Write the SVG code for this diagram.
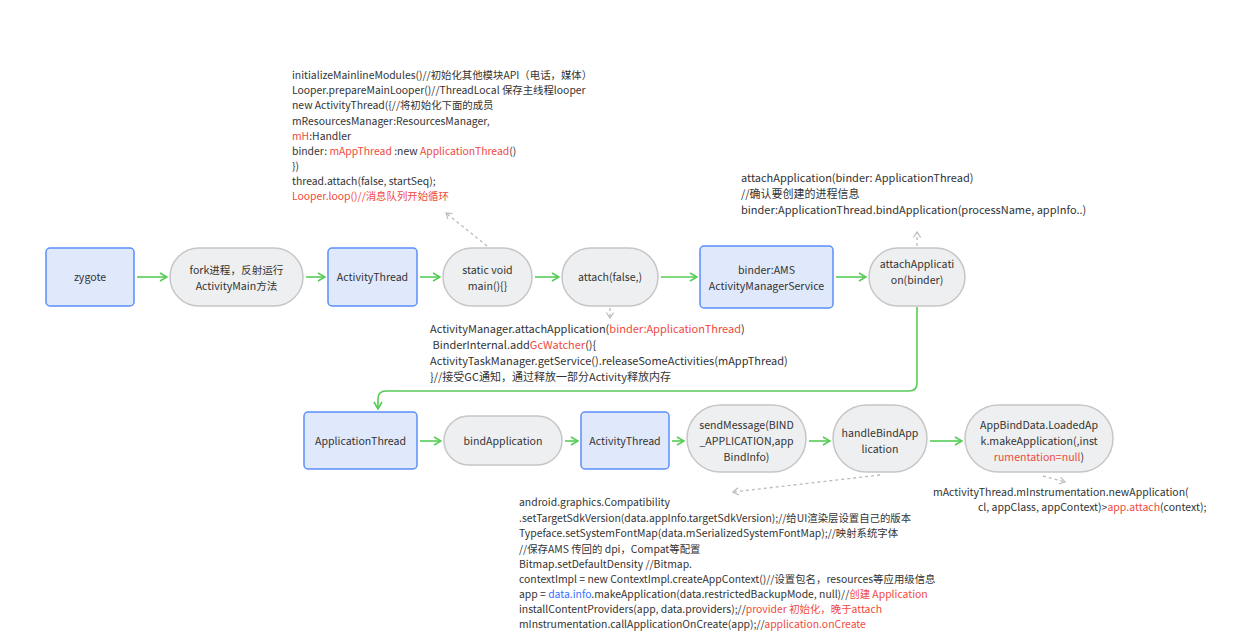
<svg xmlns="http://www.w3.org/2000/svg" width="1240" height="642" viewBox="0 0 1240 642">
<defs>
<style>
text{font-family:"Noto Sans CJK SC","Noto Sans",sans-serif;fill:#333;}
.t{font-size:11px;}
.s{font-size:10.4px;}
.n{font-size:10.6px;text-anchor:middle;}
.r{fill:#f04a3e;}
.b{fill:#3370ff;}
.box{fill:#e0e8fc;stroke:#5b8ff9;stroke-width:1.5;}
.pill{fill:#eeeff0;stroke:#c6c6c6;stroke-width:1.5;}
.g{fill:none;stroke:#55cc55;stroke-width:1.6;}
.d{fill:none;stroke:#bbbbbb;stroke-width:1.3;stroke-dasharray:3 3;}
</style>
<marker id="ag" viewBox="0 0 10 10" refX="9" refY="5" markerWidth="10" markerHeight="10" markerUnits="userSpaceOnUse" orient="auto">
<path d="M2,1 L9,5 L2,9" fill="none" stroke="#55cc55" stroke-width="1.6"/>
</marker>
<marker id="ad" viewBox="0 0 10 10" refX="9" refY="5" markerWidth="9" markerHeight="9" markerUnits="userSpaceOnUse" orient="auto">
<path d="M3,1 L9,5 L3,9" fill="none" stroke="#bbbbbb" stroke-width="1.3"/>
</marker>
</defs>
<rect width="1240" height="642" fill="#ffffff"/>

<g id="connectors">
<line class="g" x1="137" y1="277" x2="167" y2="277" marker-end="url(#ag)"/>
<line class="g" x1="306" y1="277" x2="325" y2="277" marker-end="url(#ag)"/>
<line class="g" x1="420" y1="277" x2="440" y2="277" marker-end="url(#ag)"/>
<line class="g" x1="535" y1="277" x2="559" y2="277" marker-end="url(#ag)"/>
<line class="g" x1="661" y1="277" x2="697" y2="277" marker-end="url(#ag)"/>
<line class="g" x1="836" y1="277" x2="866" y2="277" marker-end="url(#ag)"/>
<path class="g" d="M917,307 V383 Q917,391 909,391 H386 Q378,391 378,399 V409" marker-end="url(#ag)"/>
<line class="g" x1="420" y1="441" x2="441" y2="441" marker-end="url(#ag)"/>
<line class="g" x1="565" y1="441" x2="578" y2="441" marker-end="url(#ag)"/>
<line class="g" x1="672" y1="441" x2="684" y2="441" marker-end="url(#ag)"/>
<line class="g" x1="809" y1="441" x2="830" y2="441" marker-end="url(#ag)"/>
<line class="g" x1="930" y1="441" x2="962" y2="441" marker-end="url(#ag)"/>
<line class="d" x1="487" y1="246" x2="446" y2="213" marker-end="url(#ad)"/>
<line class="d" x1="610" y1="308" x2="610" y2="318" marker-end="url(#ad)"/>
<line class="d" x1="917" y1="246" x2="917" y2="232" marker-end="url(#ad)"/>
<line class="d" x1="880" y1="475" x2="733" y2="492" marker-end="url(#ad)"/>
<line class="d" x1="1043" y1="476" x2="1065" y2="482" marker-end="url(#ad)"/>
</g>

<g id="zygote"><rect class="box" x="46" y="248" width="88" height="58" rx="4"/><text class="n" x="90" y="281">zygote</text></g>
<g id="fork"><rect class="pill" x="170" y="248" width="133" height="58" rx="29"/><text class="n" x="236.5" y="274">fork进程，反射运行</text><text class="n" x="236.5" y="290">ActivityMain方法</text></g>
<g id="activityThread1"><rect class="box" x="328" y="248" width="89" height="58" rx="4"/><text class="n" x="372.5" y="281">ActivityThread</text></g>
<g id="main"><rect class="pill" x="443" y="248" width="89" height="58" rx="29"/><text class="n" x="487.5" y="274">static void</text><text class="n" x="487.5" y="290">main(){}</text></g>
<g id="attach"><rect class="pill" x="562" y="248" width="96" height="58" rx="29"/><text class="n" x="610" y="281">attach(false,)</text></g>
<g id="ams"><rect class="box" x="700" y="246" width="133" height="62" rx="4"/><text class="n" x="766.5" y="274">binder:AMS</text><text class="n" x="766.5" y="290">ActivityManagerService</text></g>
<g id="attachApplication"><rect class="pill" x="869" y="248" width="96" height="58" rx="29"/><text class="n" x="917" y="268">attachApplicati</text><text class="n" x="917" y="284">on(binder)</text></g>

<g id="applicationThread"><rect class="box" x="304" y="412" width="113" height="57" rx="4"/><text class="n" x="360.5" y="445">ApplicationThread</text></g>
<g id="bindApplication"><rect class="pill" x="444" y="416" width="118" height="49" rx="24.5"/><text class="n" x="503" y="445">bindApplication</text></g>
<g id="activityThread2"><rect class="box" x="581" y="412" width="88" height="57" rx="4"/><text class="n" x="625" y="445">ActivityThread</text></g>
<g id="sendMessage"><rect class="pill" x="687" y="405" width="119" height="67" rx="33.5"/><text class="n" x="746.5" y="429">sendMessage(BIND</text><text class="n" x="746.5" y="445">_APPLICATION,app</text><text class="n" x="746.5" y="461">BindInfo)</text></g>
<g id="handleBindApplication"><rect class="pill" x="833" y="405" width="94" height="67" rx="33.5"/><text class="n" x="880" y="437">handleBindApp</text><text class="n" x="880" y="453">lication</text></g>
<g id="makeApplication"><rect class="pill" x="965" y="405" width="148" height="67" rx="33.5"/><text class="n" x="1039" y="429">AppBindData.LoadedAp</text><text class="n" x="1039" y="445">k.makeApplication(,inst</text><text class="n" x="1039" y="461"><tspan class="r">rumentation=null</tspan>)</text></g>

<g id="note-main">
<text class="s" x="292" y="79">initializeMainlineModules()//初始化其他模块API（电话，媒体）</text>
<text class="s" x="292" y="94">Looper.prepareMainLooper()//ThreadLocal 保存主线程looper</text>
<text class="s" x="292" y="109">new ActivityThread({//将初始化下面的成员</text>
<text class="s" x="292" y="125">mResourcesManager:ResourcesManager,</text>
<text class="s" x="292" y="140"><tspan class="r">mH</tspan>:Handler</text>
<text class="s" x="292" y="155">binder: <tspan class="r">mAppThread</tspan> :new <tspan class="r">ApplicationThread</tspan>()</text>
<text class="s" x="292" y="170">})</text>
<text class="s" x="292" y="185">thread.attach(false, startSeq);</text>
<text class="s r" x="292" y="200">Looper.loop()//消息队列开始循环</text>
</g>

<g id="note-attachApplication">
<text class="t" x="741" y="182">attachApplication(binder: ApplicationThread)</text>
<text class="t" x="741" y="198">//确认要创建的进程信息</text>
<text class="t" x="741" y="214">binder:ApplicationThread.bindApplication(processName, appInfo..)</text>
</g>

<g id="note-attach">
<text class="t" x="430" y="333">ActivityManager.attachApplication(<tspan class="r">binder:ApplicationThread</tspan>)</text>
<text class="t" x="430" y="349" xml:space="preserve"> BinderInternal.add<tspan class="r">GcWatcher</tspan>(){</text>
<text class="t" x="430" y="365">ActivityTaskManager.getService().releaseSomeActivities(mAppThread)</text>
<text class="t" x="430" y="381">}//接受GC通知，通过释放一部分Activity释放内存</text>
</g>

<g id="note-handleBind">
<text class="s" x="519" y="506">android.graphics.Compatibility</text>
<text class="s" x="519" y="522">.setTargetSdkVersion(data.appInfo.targetSdkVersion);//给UI渲染层设置自己的版本</text>
<text class="s" x="519" y="537">Typeface.setSystemFontMap(data.mSerializedSystemFontMap);//映射系统字体</text>
<text class="s" x="519" y="553">//保存AMS 传回的 dpi，Compat等配置</text>
<text class="s" x="519" y="568">Bitmap.setDefaultDensity //Bitmap.</text>
<text class="s" x="519" y="583">contextImpl = new ContextImpl.createAppContext()//设置包名，resources等应用级信息</text>
<text class="s" x="519" y="598">app = <tspan class="b">data.info</tspan>.makeApplication(data.restrictedBackupMode, null)//<tspan class="r">创建 Application</tspan></text>
<text class="s" x="519" y="613">installContentProviders(app, data.providers);//<tspan class="r">provider 初始化，晚于attach</tspan></text>
<text class="s" x="519" y="628">mInstrumentation.callApplicationOnCreate(app);//<tspan class="r">application.onCreate</tspan></text>
</g>

<g id="note-makeApplication">
<text style="font-size:10.5px" x="933" y="496">mActivityThread.mInstrumentation.newApplication(</text>
<text style="font-size:10.5px" x="978" y="511">cl, appClass, appContext)&gt;<tspan class="r">app.attach</tspan>(context);</text>
</g>
</svg>
